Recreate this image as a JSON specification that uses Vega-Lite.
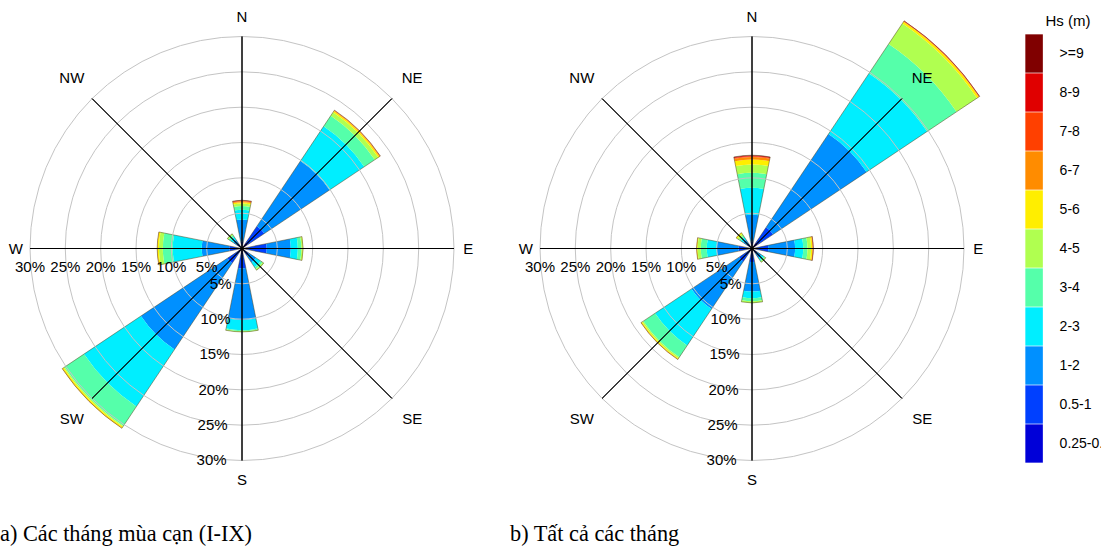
{
  "$schema": "https://vega.github.io/schema/vega-lite/v6.json",
  "background": "white",
  "padding": {"left": 0, "top": 0, "right": -24, "bottom": 0},
  "config": {"view": {"stroke": null}},
  "datasets": {
    "sectors": [
      {"dir": "N", "deg": 0, "a0": -11.25, "a1": 11.25},
      {"dir": "NE", "deg": 45, "a0": 33.75, "a1": 56.25},
      {"dir": "E", "deg": 90, "a0": 78.75, "a1": 101.25},
      {"dir": "SE", "deg": 135, "a0": 123.75, "a1": 146.25},
      {"dir": "S", "deg": 180, "a0": 168.75, "a1": 191.25},
      {"dir": "SW", "deg": 225, "a0": 213.75, "a1": 236.25},
      {"dir": "W", "deg": 270, "a0": 258.75, "a1": 281.25},
      {"dir": "NW", "deg": 315, "a0": 303.75, "a1": 326.25}
    ],
    "rings": [
      {"pct": 5, "label": "5%"}, {"pct": 10, "label": "10%"}, {"pct": 15, "label": "15%"},
      {"pct": 20, "label": "20%"}, {"pct": 25, "label": "25%"}, {"pct": 30, "label": "30%"}
    ],
    "petals": [
      {"p": "a", "dir": "N", "hs": "0.25-0.5", "f": 0.4}, {"p": "a", "dir": "N", "hs": "0.5-1", "f": 0.6}, {"p": "a", "dir": "N", "hs": "1-2", "f": 3.1}, {"p": "a", "dir": "N", "hs": "2-3", "f": 1.4}, {"p": "a", "dir": "N", "hs": "3-4", "f": 0.5}, {"p": "a", "dir": "N", "hs": "4-5", "f": 0.35}, {"p": "a", "dir": "N", "hs": "5-6", "f": 0.2}, {"p": "a", "dir": "N", "hs": "6-7", "f": 0.13}, {"p": "a", "dir": "N", "hs": "7-8", "f": 0.07}, {"p": "a", "dir": "N", "hs": "8-9", "f": 0.05}, {"p": "a", "dir": "N", "hs": ">=9", "f": 0.03},
      {"p": "a", "dir": "NE", "hs": "0.25-0.5", "f": 1.0}, {"p": "a", "dir": "NE", "hs": "0.5-1", "f": 2.8}, {"p": "a", "dir": "NE", "hs": "1-2", "f": 11.1}, {"p": "a", "dir": "NE", "hs": "2-3", "f": 5.9}, {"p": "a", "dir": "NE", "hs": "3-4", "f": 1.8}, {"p": "a", "dir": "NE", "hs": "4-5", "f": 0.6}, {"p": "a", "dir": "NE", "hs": "5-6", "f": 0.2}, {"p": "a", "dir": "NE", "hs": "6-7", "f": 0.1}, {"p": "a", "dir": "NE", "hs": "7-8", "f": 0.05},
      {"p": "a", "dir": "E", "hs": "0.25-0.5", "f": 0.8}, {"p": "a", "dir": "E", "hs": "0.5-1", "f": 2.7}, {"p": "a", "dir": "E", "hs": "1-2", "f": 3.4}, {"p": "a", "dir": "E", "hs": "2-3", "f": 1.0}, {"p": "a", "dir": "E", "hs": "3-4", "f": 0.5}, {"p": "a", "dir": "E", "hs": "4-5", "f": 0.2}, {"p": "a", "dir": "E", "hs": "5-6", "f": 0.05},
      {"p": "a", "dir": "SE", "hs": "0.25-0.5", "f": 0.5}, {"p": "a", "dir": "SE", "hs": "0.5-1", "f": 0.7}, {"p": "a", "dir": "SE", "hs": "1-2", "f": 1.2}, {"p": "a", "dir": "SE", "hs": "2-3", "f": 0.8}, {"p": "a", "dir": "SE", "hs": "3-4", "f": 0.3}, {"p": "a", "dir": "SE", "hs": "4-5", "f": 0.2},
      {"p": "a", "dir": "S", "hs": "0.25-0.5", "f": 0.8}, {"p": "a", "dir": "S", "hs": "0.5-1", "f": 2.0}, {"p": "a", "dir": "S", "hs": "1-2", "f": 7.3}, {"p": "a", "dir": "S", "hs": "2-3", "f": 1.45}, {"p": "a", "dir": "S", "hs": "3-4", "f": 0.15}, {"p": "a", "dir": "S", "hs": "4-5", "f": 0.1},
      {"p": "a", "dir": "SW", "hs": "0.25-0.5", "f": 0.6}, {"p": "a", "dir": "SW", "hs": "0.5-1", "f": 1.9}, {"p": "a", "dir": "SW", "hs": "1-2", "f": 14.7}, {"p": "a", "dir": "SW", "hs": "2-3", "f": 9.7}, {"p": "a", "dir": "SW", "hs": "3-4", "f": 3.3}, {"p": "a", "dir": "SW", "hs": "4-5", "f": 0.15}, {"p": "a", "dir": "SW", "hs": "5-6", "f": 0.2}, {"p": "a", "dir": "SW", "hs": "6-7", "f": 0.05},
      {"p": "a", "dir": "W", "hs": "0.25-0.5", "f": 0.6}, {"p": "a", "dir": "W", "hs": "0.5-1", "f": 1.2}, {"p": "a", "dir": "W", "hs": "1-2", "f": 3.9}, {"p": "a", "dir": "W", "hs": "2-3", "f": 4.1}, {"p": "a", "dir": "W", "hs": "3-4", "f": 1.4}, {"p": "a", "dir": "W", "hs": "4-5", "f": 0.55}, {"p": "a", "dir": "W", "hs": "5-6", "f": 0.2}, {"p": "a", "dir": "W", "hs": "6-7", "f": 0.05},
      {"p": "a", "dir": "NW", "hs": "0.25-0.5", "f": 0.3}, {"p": "a", "dir": "NW", "hs": "0.5-1", "f": 0.6}, {"p": "a", "dir": "NW", "hs": "1-2", "f": 0.6}, {"p": "a", "dir": "NW", "hs": "2-3", "f": 0.5}, {"p": "a", "dir": "NW", "hs": "3-4", "f": 0.3}, {"p": "a", "dir": "NW", "hs": "4-5", "f": 0.2},
      {"p": "b", "dir": "N", "hs": "0.25-0.5", "f": 0.4}, {"p": "b", "dir": "N", "hs": "0.5-1", "f": 0.6}, {"p": "b", "dir": "N", "hs": "1-2", "f": 3.8}, {"p": "b", "dir": "N", "hs": "2-3", "f": 3.8}, {"p": "b", "dir": "N", "hs": "3-4", "f": 2.1}, {"p": "b", "dir": "N", "hs": "4-5", "f": 1.2}, {"p": "b", "dir": "N", "hs": "5-6", "f": 0.7}, {"p": "b", "dir": "N", "hs": "6-7", "f": 0.35}, {"p": "b", "dir": "N", "hs": "7-8", "f": 0.1}, {"p": "b", "dir": "N", "hs": "8-9", "f": 0.1}, {"p": "b", "dir": "N", "hs": ">=9", "f": 0.05},
      {"p": "b", "dir": "NE", "hs": "0.25-0.5", "f": 1.0}, {"p": "b", "dir": "NE", "hs": "0.5-1", "f": 2.6}, {"p": "b", "dir": "NE", "hs": "1-2", "f": 15.9}, {"p": "b", "dir": "NE", "hs": "2-3", "f": 10.3}, {"p": "b", "dir": "NE", "hs": "3-4", "f": 5.0}, {"p": "b", "dir": "NE", "hs": "4-5", "f": 3.5}, {"p": "b", "dir": "NE", "hs": "5-6", "f": 0.3}, {"p": "b", "dir": "NE", "hs": "6-7", "f": 0.05}, {"p": "b", "dir": "NE", "hs": "7-8", "f": 0.05}, {"p": "b", "dir": "NE", "hs": "8-9", "f": 0.05},
      {"p": "b", "dir": "E", "hs": "0.25-0.5", "f": 0.6}, {"p": "b", "dir": "E", "hs": "0.5-1", "f": 1.7}, {"p": "b", "dir": "E", "hs": "1-2", "f": 3.8}, {"p": "b", "dir": "E", "hs": "2-3", "f": 1.15}, {"p": "b", "dir": "E", "hs": "3-4", "f": 0.6}, {"p": "b", "dir": "E", "hs": "4-5", "f": 0.5}, {"p": "b", "dir": "E", "hs": "5-6", "f": 0.2}, {"p": "b", "dir": "E", "hs": "6-7", "f": 0.07}, {"p": "b", "dir": "E", "hs": "7-8", "f": 0.05}, {"p": "b", "dir": "E", "hs": "8-9", "f": 0.03},
      {"p": "b", "dir": "SE", "hs": "0.25-0.5", "f": 0.4}, {"p": "b", "dir": "SE", "hs": "0.5-1", "f": 0.5}, {"p": "b", "dir": "SE", "hs": "1-2", "f": 0.7}, {"p": "b", "dir": "SE", "hs": "2-3", "f": 0.4}, {"p": "b", "dir": "SE", "hs": "3-4", "f": 0.2}, {"p": "b", "dir": "SE", "hs": "4-5", "f": 0.15},
      {"p": "b", "dir": "S", "hs": "0.25-0.5", "f": 0.6}, {"p": "b", "dir": "S", "hs": "0.5-1", "f": 1.3}, {"p": "b", "dir": "S", "hs": "1-2", "f": 4.2}, {"p": "b", "dir": "S", "hs": "2-3", "f": 0.95}, {"p": "b", "dir": "S", "hs": "3-4", "f": 0.4}, {"p": "b", "dir": "S", "hs": "4-5", "f": 0.25},
      {"p": "b", "dir": "SW", "hs": "0.25-0.5", "f": 0.6}, {"p": "b", "dir": "SW", "hs": "0.5-1", "f": 1.6}, {"p": "b", "dir": "SW", "hs": "1-2", "f": 8.1}, {"p": "b", "dir": "SW", "hs": "2-3", "f": 6.2}, {"p": "b", "dir": "SW", "hs": "3-4", "f": 2.0}, {"p": "b", "dir": "SW", "hs": "4-5", "f": 0.2}, {"p": "b", "dir": "SW", "hs": "5-6", "f": 0.15}, {"p": "b", "dir": "SW", "hs": "6-7", "f": 0.05},
      {"p": "b", "dir": "W", "hs": "0.25-0.5", "f": 0.6}, {"p": "b", "dir": "W", "hs": "0.5-1", "f": 1.3}, {"p": "b", "dir": "W", "hs": "1-2", "f": 3.1}, {"p": "b", "dir": "W", "hs": "2-3", "f": 1.4}, {"p": "b", "dir": "W", "hs": "3-4", "f": 0.85}, {"p": "b", "dir": "W", "hs": "4-5", "f": 0.45}, {"p": "b", "dir": "W", "hs": "5-6", "f": 0.1}, {"p": "b", "dir": "W", "hs": "6-7", "f": 0.05},
      {"p": "b", "dir": "NW", "hs": "0.25-0.5", "f": 0.3}, {"p": "b", "dir": "NW", "hs": "0.5-1", "f": 0.6}, {"p": "b", "dir": "NW", "hs": "1-2", "f": 0.6}, {"p": "b", "dir": "NW", "hs": "2-3", "f": 0.4}, {"p": "b", "dir": "NW", "hs": "3-4", "f": 0.3}, {"p": "b", "dir": "NW", "hs": "4-5", "f": 0.3}, {"p": "b", "dir": "NW", "hs": "5-6", "f": 0.2}
    ]
  },
  "spacing": 26,
  "hconcat": [
    {
      "width": 484,
      "height": 497,
      "title": {"text": "a) Các tháng mùa cạn (I-IX)", "orient": "bottom", "anchor": "start", "offset": 26, "font": "Liberation Serif", "fontSize": 22.3, "fontWeight": "normal", "color": "#000"},
      "layer": [
        {
          "data": {"name": "petals"},
          "transform": [
            {"filter": "datum.p == 'a'"},
            {"lookup": "dir", "from": {"data": {"name": "sectors"}, "key": "dir", "fields": ["a0", "a1"]}},
            {"stack": "f", "groupby": ["dir"], "sort": [{"field": "hs", "order": "ascending"}], "as": ["r0", "r1"]}
          ],
          "mark": {"type": "arc"},
          "encoding": {
            "theta": {"field": "a0", "type": "quantitative", "stack": null, "scale": {"type": "linear", "domain": [0, 360], "range": [0, 6.283185307179586]}},
            "theta2": {"field": "a1"},
            "radius": {"field": "r1", "type": "quantitative", "stack": null, "scale": {"type": "linear", "domain": [0, 30], "range": [0, 212], "zero": true, "nice": false}},
            "radius2": {"field": "r0"},
            "color": {
              "field": "hs", "type": "nominal",
              "scale": {"domain": [">=9", "8-9", "7-8", "6-7", "5-6", "4-5", "3-4", "2-3", "1-2", "0.5-1", "0.25-0.5"],
                        "range": ["#800000", "#e00000", "#ff4000", "#ff8c00", "#ffee00", "#b0ff50", "#55ffaa", "#00eeff", "#0090ff", "#0040ff", "#0000d8"]},
              "legend": {"title": "Hs (m)", "orient": "right", "offset": 17, "padding": 14, "symbolType": "M-1,-1L-0.086,-1L-0.086,1L-1,1Z", "symbolSize": 1470, "symbolStrokeWidth": 0, "symbolOpacity": 1, "rowPadding": 0, "labelFont": "Liberation Sans", "labelFontSize": 14, "labelColor": "#000", "labelOffset": -4.4, "titleFont": "Liberation Sans", "titleFontSize": 15, "titleFontWeight": "normal", "titleColor": "#000", "titlePadding": 5, "titleAnchor": "middle"}
            }
          }
        },
        {
          "data": {"name": "petals"},
          "transform": [
            {"filter": "datum.p == 'a'"},
            {"aggregate": [{"op": "sum", "field": "f", "as": "tot"}], "groupby": ["dir"]},
            {"lookup": "dir", "from": {"data": {"name": "sectors"}, "key": "dir", "fields": ["a0", "a1"]}}
          ],
          "mark": {"type": "arc", "filled": false, "stroke": "#4a3a10", "strokeWidth": 0.6, "strokeOpacity": 0.8},
          "encoding": {"theta": {"field": "a0", "type": "quantitative", "stack": null}, "theta2": {"field": "a1"}, "radius": {"field": "tot", "type": "quantitative", "stack": null}}
        },
        {
          "data": {"name": "rings"},
          "mark": {"type": "arc", "filled": false, "stroke": "#c4c4c4", "strokeWidth": 1},
          "encoding": {"theta": {"datum": 0, "type": "quantitative"}, "theta2": {"datum": 360}, "radius": {"field": "pct", "type": "quantitative", "stack": null}}
        },
        {
          "data": {"name": "sectors"},
          "mark": {"type": "arc", "filled": false, "stroke": "#000", "strokeWidth": 1},
          "encoding": {"theta": {"field": "deg", "type": "quantitative", "stack": null}, "theta2": {"field": "deg"}, "radius": {"datum": 30, "type": "quantitative"}, "radius2": {"datum": 0}}
        },
        {
          "data": {"name": "sectors"},
          "transform": [{"filter": "datum.deg % 180 == 0"}],
          "mark": {"type": "text", "font": "Liberation Sans", "fontSize": 15, "color": "#000", "align": "center", "baseline": "middle"},
          "encoding": {"text": {"field": "dir"}, "theta": {"field": "deg", "type": "quantitative", "stack": null}, "radius": {"datum": 32.8, "type": "quantitative"}}
        },
        {
          "data": {"name": "sectors"},
          "transform": [{"filter": "datum.deg % 180 == 90"}],
          "mark": {"type": "text", "font": "Liberation Sans", "fontSize": 15, "color": "#000", "align": "center", "baseline": "middle"},
          "encoding": {"text": {"field": "dir"}, "theta": {"field": "deg", "type": "quantitative", "stack": null}, "radius": {"datum": 32.0, "type": "quantitative"}}
        },
        {
          "data": {"name": "sectors"},
          "transform": [{"filter": "datum.deg % 90 != 0"}],
          "mark": {"type": "text", "font": "Liberation Sans", "fontSize": 15, "color": "#000", "align": "center", "baseline": "middle"},
          "encoding": {"text": {"field": "dir"}, "theta": {"field": "deg", "type": "quantitative", "stack": null}, "radius": {"datum": 34.05, "type": "quantitative"}}
        },
        {
          "data": {"name": "rings"},
          "mark": {"type": "text", "font": "Liberation Sans", "fontSize": 15, "color": "#000", "align": "center", "baseline": "middle", "dy": 18.5},
          "encoding": {"text": {"field": "label"}, "theta": {"datum": 270, "type": "quantitative"}, "radius": {"field": "pct", "type": "quantitative", "stack": null}}
        },
        {
          "data": {"name": "rings"},
          "mark": {"type": "text", "font": "Liberation Sans", "fontSize": 15, "color": "#000", "align": "right", "baseline": "middle", "dx": -9.5},
          "encoding": {"text": {"field": "label"}, "theta": {"datum": 181.6, "type": "quantitative"}, "radius": {"field": "pct", "type": "quantitative", "stack": null}}
        }
      ]
    },
    {
      "width": 484,
      "height": 497,
      "title": {"text": "b) Tất cả các tháng", "orient": "bottom", "anchor": "start", "offset": 26, "font": "Liberation Serif", "fontSize": 22.3, "fontWeight": "normal", "color": "#000"},
      "layer": [
        {
          "data": {"name": "petals"},
          "transform": [
            {"filter": "datum.p == 'b'"},
            {"lookup": "dir", "from": {"data": {"name": "sectors"}, "key": "dir", "fields": ["a0", "a1"]}},
            {"stack": "f", "groupby": ["dir"], "sort": [{"field": "hs", "order": "ascending"}], "as": ["r0", "r1"]}
          ],
          "mark": {"type": "arc"},
          "encoding": {
            "theta": {"field": "a0", "type": "quantitative", "stack": null, "scale": {"type": "linear", "domain": [0, 360], "range": [0, 6.283185307179586]}},
            "theta2": {"field": "a1"},
            "radius": {"field": "r1", "type": "quantitative", "stack": null, "scale": {"type": "linear", "domain": [0, 30], "range": [0, 212], "zero": true, "nice": false}},
            "radius2": {"field": "r0"},
            "color": {
              "field": "hs", "type": "nominal",
              "scale": {"domain": [">=9", "8-9", "7-8", "6-7", "5-6", "4-5", "3-4", "2-3", "1-2", "0.5-1", "0.25-0.5"],
                        "range": ["#800000", "#e00000", "#ff4000", "#ff8c00", "#ffee00", "#b0ff50", "#55ffaa", "#00eeff", "#0090ff", "#0040ff", "#0000d8"]},
              "legend": {"title": "Hs (m)", "orient": "right", "offset": 17, "padding": 14, "symbolType": "M-1,-1L-0.086,-1L-0.086,1L-1,1Z", "symbolSize": 1470, "symbolStrokeWidth": 0, "symbolOpacity": 1, "rowPadding": 0, "labelFont": "Liberation Sans", "labelFontSize": 14, "labelColor": "#000", "labelOffset": -4.4, "titleFont": "Liberation Sans", "titleFontSize": 15, "titleFontWeight": "normal", "titleColor": "#000", "titlePadding": 5, "titleAnchor": "middle"}
            }
          }
        },
        {
          "data": {"name": "petals"},
          "transform": [
            {"filter": "datum.p == 'b'"},
            {"aggregate": [{"op": "sum", "field": "f", "as": "tot"}], "groupby": ["dir"]},
            {"lookup": "dir", "from": {"data": {"name": "sectors"}, "key": "dir", "fields": ["a0", "a1"]}}
          ],
          "mark": {"type": "arc", "filled": false, "stroke": "#4a3a10", "strokeWidth": 0.6, "strokeOpacity": 0.8},
          "encoding": {"theta": {"field": "a0", "type": "quantitative", "stack": null}, "theta2": {"field": "a1"}, "radius": {"field": "tot", "type": "quantitative", "stack": null}}
        },
        {
          "data": {"name": "rings"},
          "mark": {"type": "arc", "filled": false, "stroke": "#c4c4c4", "strokeWidth": 1},
          "encoding": {"theta": {"datum": 0, "type": "quantitative"}, "theta2": {"datum": 360}, "radius": {"field": "pct", "type": "quantitative", "stack": null}}
        },
        {
          "data": {"name": "sectors"},
          "mark": {"type": "arc", "filled": false, "stroke": "#000", "strokeWidth": 1},
          "encoding": {"theta": {"field": "deg", "type": "quantitative", "stack": null}, "theta2": {"field": "deg"}, "radius": {"datum": 30, "type": "quantitative"}, "radius2": {"datum": 0}}
        },
        {
          "data": {"name": "sectors"},
          "transform": [{"filter": "datum.deg % 180 == 0"}],
          "mark": {"type": "text", "font": "Liberation Sans", "fontSize": 15, "color": "#000", "align": "center", "baseline": "middle"},
          "encoding": {"text": {"field": "dir"}, "theta": {"field": "deg", "type": "quantitative", "stack": null}, "radius": {"datum": 32.8, "type": "quantitative"}}
        },
        {
          "data": {"name": "sectors"},
          "transform": [{"filter": "datum.deg % 180 == 90"}],
          "mark": {"type": "text", "font": "Liberation Sans", "fontSize": 15, "color": "#000", "align": "center", "baseline": "middle"},
          "encoding": {"text": {"field": "dir"}, "theta": {"field": "deg", "type": "quantitative", "stack": null}, "radius": {"datum": 32.0, "type": "quantitative"}}
        },
        {
          "data": {"name": "sectors"},
          "transform": [{"filter": "datum.deg % 90 != 0"}],
          "mark": {"type": "text", "font": "Liberation Sans", "fontSize": 15, "color": "#000", "align": "center", "baseline": "middle"},
          "encoding": {"text": {"field": "dir"}, "theta": {"field": "deg", "type": "quantitative", "stack": null}, "radius": {"datum": 34.05, "type": "quantitative"}}
        },
        {
          "data": {"name": "rings"},
          "mark": {"type": "text", "font": "Liberation Sans", "fontSize": 15, "color": "#000", "align": "center", "baseline": "middle", "dy": 18.5},
          "encoding": {"text": {"field": "label"}, "theta": {"datum": 270, "type": "quantitative"}, "radius": {"field": "pct", "type": "quantitative", "stack": null}}
        },
        {
          "data": {"name": "rings"},
          "mark": {"type": "text", "font": "Liberation Sans", "fontSize": 15, "color": "#000", "align": "right", "baseline": "middle", "dx": -9.5},
          "encoding": {"text": {"field": "label"}, "theta": {"datum": 181.6, "type": "quantitative"}, "radius": {"field": "pct", "type": "quantitative", "stack": null}}
        }
      ]
    }
  ]
}
